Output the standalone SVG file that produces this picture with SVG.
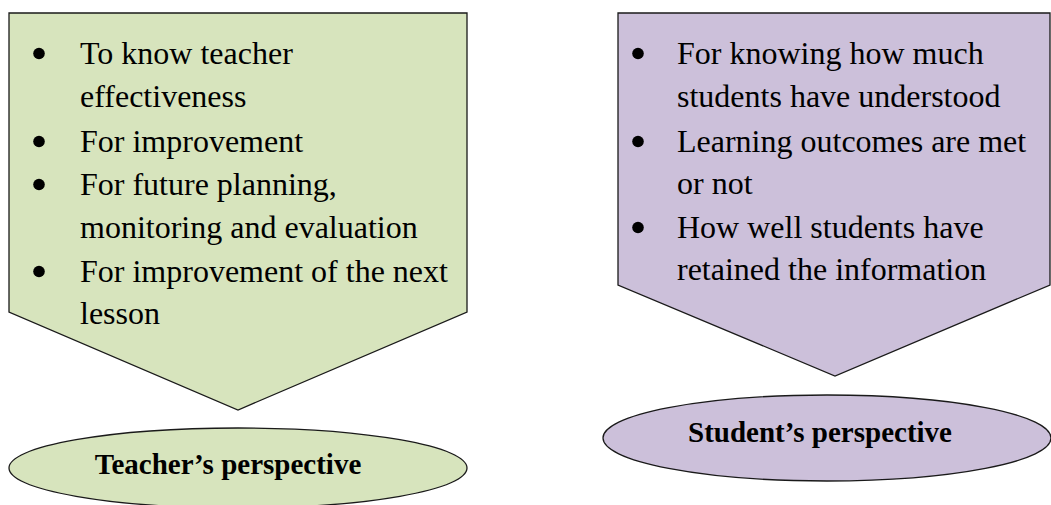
<svg xmlns="http://www.w3.org/2000/svg" width="1051" height="505" viewBox="0 0 1051 505">
<style>
.t{font-family:"Liberation Serif","Times New Roman",serif;font-size:32px;fill:#000}
.b{font-family:"Liberation Serif","Times New Roman",serif;font-size:29px;font-weight:bold;fill:#000}
.g{fill:#D7E4BD;stroke:#1a1a1a;stroke-width:1.3}
.p{fill:#CCC0DA;stroke:#1a1a1a;stroke-width:1.3}
.d{fill:#000}
</style>
<rect width="1051" height="505" fill="#fff"/>
<g id="teacher-list">
<path class="g" d="M9,13 H467 V312 L238,410 L9,312 Z"/>
<circle class="d" cx="39" cy="53.5" r="5.8"/>
<circle class="d" cx="39" cy="141.5" r="5.8"/>
<circle class="d" cx="39" cy="184.5" r="5.8"/>
<circle class="d" cx="39" cy="271.5" r="5.8"/>
<g class="t">
<text x="80" y="64">To know teacher</text>
<text x="80" y="107">effectiveness</text>
<text x="80" y="152">For improvement</text>
<text x="80" y="195">For future planning,</text>
<text x="80" y="238">monitoring and evaluation</text>
<text x="80" y="282">For improvement of the next</text>
<text x="80" y="324">lesson</text>
</g>
</g>
<g id="teacher-label">
<ellipse class="g" cx="238" cy="468" rx="229" ry="40"/>
<text class="b" x="228" y="474" text-anchor="middle">Teacher’s perspective</text>
</g>
<g id="student-list">
<path class="p" d="M618,13 H1050 V285 L835,376 L618,285 Z"/>
<circle class="d" cx="638" cy="53.5" r="5.8"/>
<circle class="d" cx="638" cy="141.5" r="5.8"/>
<circle class="d" cx="638" cy="227.5" r="5.8"/>
<g class="t">
<text x="677" y="64">For knowing how much</text>
<text x="677" y="107">students have understood</text>
<text x="677" y="152">Learning outcomes are met</text>
<text x="677" y="194">or not</text>
<text x="677" y="238">How well students have</text>
<text x="677" y="280">retained the information</text>
</g>
</g>
<g id="student-label">
<ellipse class="p" cx="827" cy="438" rx="224" ry="43"/>
<text class="b" x="820" y="442" text-anchor="middle">Student’s perspective</text>
</g>
<g id="connectors"/>
</svg>
